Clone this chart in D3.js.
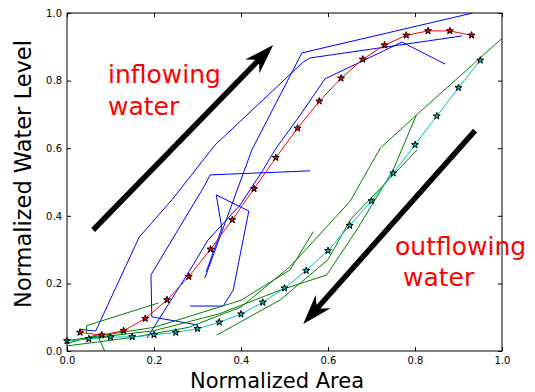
<!DOCTYPE html>
<html>
<head>
<meta charset="utf-8">
<script src="https://cdn.jsdelivr.net/npm/d3@7/dist/d3.min.js"></script>
<style>
  html, body { margin: 0; padding: 0; background: #fff; }
  svg { display: block; font-family: "DejaVu Sans", sans-serif; }
</style>
</head>
<body>
<svg id="chart" width="535" height="392"></svg>
<script>
// Mean inflow curve (red stars) and mean outflow curve (cyan stars)
const inflowArea  = [0.03,0.08,0.13,0.18,0.23,0.28,0.33,0.38,0.43,0.48,0.53,0.58,0.63,0.68,0.73,0.78,0.83,0.88,0.93];
const inflowLevel = [0.055,0.047,0.060,0.096,0.151,0.220,0.301,0.388,0.480,0.572,0.659,0.739,0.807,0.863,0.905,0.934,0.947,0.947,0.934];
const outflowArea  = [0.00,0.05,0.10,0.15,0.20,0.25,0.30,0.35,0.40,0.45,0.50,0.55,0.60,0.65,0.70,0.75,0.80,0.85,0.90,0.95];
const outflowLevel = [0.030,0.036,0.041,0.042,0.048,0.055,0.066,0.085,0.109,0.144,0.186,0.238,0.297,0.371,0.444,0.526,0.610,0.695,0.779,0.860];

// Individual filling events (blue), as [area, level] vertices
const inflowEvents = [
  [[0.031,0.064],[0.066,0.059],[0.166,0.337],[0.241,0.447],[0.340,0.609],[0.543,0.855],[0.559,0.867],[0.908,0.932]],
  [[0.317,0.216],[0.425,0.595],[0.540,0.882],[0.933,1.0]],
  [[0.184,0.038],[0.283,0.240],[0.324,0.328],[0.398,0.432],[0.451,0.536],[0.478,0.595],[0.536,0.698],[0.593,0.805],[0.770,0.914],[0.869,0.849]],
  [[0.301,0.077],[0.195,0.101],[0.193,0.225],[0.317,0.491],[0.329,0.521],[0.559,0.533]],
  [[0.283,0.133],[0.359,0.133],[0.382,0.180],[0.418,0.414],[0.343,0.462],[0.356,0.364],[0.320,0.234]]
];

// Individual draining events (green)
const outflowEvents = [
  [[0.00,0.022],[0.07,0.048],[0.09,-0.01]],
  [[0.045,0.05],[0.045,0.075],[0.21,0.142]],
  [[0.00,0.015],[0.15,0.04],[0.28,0.07],[0.40,0.13],[0.513,0.25],[0.651,0.443],[0.72,0.60],[0.805,0.70],[1.0,0.925]],
  [[0.00,0.03],[0.20,0.06],[0.35,0.11],[0.49,0.18],[0.597,0.225],[0.666,0.358],[0.75,0.536],[0.803,0.698]],
  [[0.344,0.047],[0.49,0.151],[0.60,0.27],[0.651,0.388],[0.805,0.595]],
  [[0.00,0.03],[0.20,0.07],[0.40,0.15],[0.513,0.24],[0.566,0.353]]
];

const tickValues = [0.0,0.2,0.4,0.6,0.8,1.0];

// Direction arrows: [tailArea, tailLevel, headArea, headLevel]
const inflowArrow  = [0.060,0.358,0.474,0.905];
const outflowArrow = [0.938,0.652,0.543,0.080];

const svg = d3.select("#chart");
const plot = {left: 67, right: 502, top: 13, bottom: 351};

const x = d3.scaleLinear().domain([0,1]).range([plot.left, plot.right]);
const y = d3.scaleLinear().domain([0,1]).range([plot.bottom, plot.top]);

svg.append("defs").append("clipPath").attr("id","plotClip")
  .append("rect")
  .attr("x", plot.left).attr("y", plot.top)
  .attr("width", plot.right - plot.left).attr("height", plot.bottom - plot.top);

const g = svg.append("g").attr("clip-path","url(#plotClip)");
const line = d3.line().x(d => x(d[0])).y(d => y(d[1]));

g.selectAll(".blue").data(inflowEvents).join("path")
  .attr("d", line).attr("fill","none").attr("stroke","#0000ff").attr("stroke-width",1);
g.selectAll(".green").data(outflowEvents).join("path")
  .attr("d", line).attr("fill","none").attr("stroke","#008000").attr("stroke-width",1);

const inflowPts  = inflowArea.map((a,i) => [a, inflowLevel[i]]);
const outflowPts = outflowArea.map((a,i) => [a, outflowLevel[i]]);

g.append("path").datum(inflowPts).attr("d", line)
  .attr("fill","none").attr("stroke","#ff0000").attr("stroke-width",1);
g.append("path").datum(outflowPts).attr("d", line)
  .attr("fill","none").attr("stroke","#00bfbf").attr("stroke-width",1);

const star = d3.symbol().type(d3.symbolStar).size(15);
svg.selectAll(".rstar").data(inflowPts).join("path")
  .attr("d", star).attr("transform", d => `translate(${x(d[0])},${y(d[1])})`)
  .attr("fill","#ff0000").attr("stroke","#000").attr("stroke-width",1);
svg.selectAll(".cstar").data(outflowPts).join("path")
  .attr("d", star).attr("transform", d => `translate(${x(d[0])},${y(d[1])})`)
  .attr("fill","#00bfbf").attr("stroke","#000").attr("stroke-width",1);

// Thick arrows drawn as filled polygons
function arrow(spec) {
  const x0 = x(spec[0]), y0 = y(spec[1]), x1 = x(spec[2]), y1 = y(spec[3]);
  const len = Math.hypot(x1-x0, y1-y0);
  const ux = (x1-x0)/len, uy = (y1-y0)/len, px = -uy, py = ux;
  const shaft = 2.7, headW = 10, headL = 30, back = 23;
  const bx = x1 - ux*headL, by = y1 - uy*headL;
  const nx = x1 - ux*back, ny = y1 - uy*back;
  const pts = [
    [x0 + px*shaft, y0 + py*shaft],
    [nx + px*shaft, ny + py*shaft],
    [bx + px*headW, by + py*headW],
    [x1, y1],
    [bx - px*headW, by - py*headW],
    [nx - px*shaft, ny - py*shaft],
    [x0 - px*shaft, y0 - py*shaft]
  ];
  svg.append("path").attr("d", "M" + pts.map(p => p.join(",")).join("L") + "Z").attr("fill","#000");
}
arrow(inflowArrow);
arrow(outflowArrow);

// Axes with inward ticks on all four sides
const fmt = d3.format(".1f");
svg.append("g").attr("transform",`translate(0,${plot.bottom})`)
  .call(d3.axisBottom(x).tickValues(tickValues).tickFormat(fmt).tickSizeInner(-4).tickSizeOuter(0).tickPadding(6));
svg.append("g").attr("transform",`translate(0,${plot.top})`)
  .call(d3.axisTop(x).tickValues(tickValues).tickFormat("").tickSizeInner(-4).tickSizeOuter(0));
svg.append("g").attr("transform",`translate(${plot.left},0)`)
  .call(d3.axisLeft(y).tickValues(tickValues).tickFormat(fmt).tickSizeInner(-4).tickSizeOuter(0).tickPadding(5));
svg.append("g").attr("transform",`translate(${plot.right},0)`)
  .call(d3.axisRight(y).tickValues(tickValues).tickFormat("").tickSizeInner(-4).tickSizeOuter(0));
svg.selectAll(".tick text").attr("font-size", 10).attr("fill","#000").attr("font-family","DejaVu Sans");
svg.selectAll(".domain").remove();
svg.append("rect").attr("x",plot.left).attr("y",plot.top)
  .attr("width",plot.right-plot.left).attr("height",plot.bottom-plot.top)
  .attr("fill","none").attr("stroke","#000").attr("stroke-width",1);

// Axis titles
svg.append("text").attr("x", 277).attr("y", 388).attr("text-anchor","middle")
  .attr("font-size", 21).text("Normalized Area");
svg.append("text").attr("transform","translate(31,174) rotate(-90)").attr("text-anchor","middle")
  .attr("font-size", 22.5).text("Normalized Water Level");

// Annotations
const inText = svg.append("text").attr("fill","#ff0000").attr("font-size",25);
inText.append("tspan").attr("x",108).attr("y",83).text("inflowing");
inText.append("tspan").attr("x",108).attr("y",115).text("water");
const outText = svg.append("text").attr("fill","#ff0000").attr("font-size",25);
outText.append("tspan").attr("x",395).attr("y",255).text("outflowing");
outText.append("tspan").attr("x",403).attr("y",286).text("water");
</script>
</body>
</html>
